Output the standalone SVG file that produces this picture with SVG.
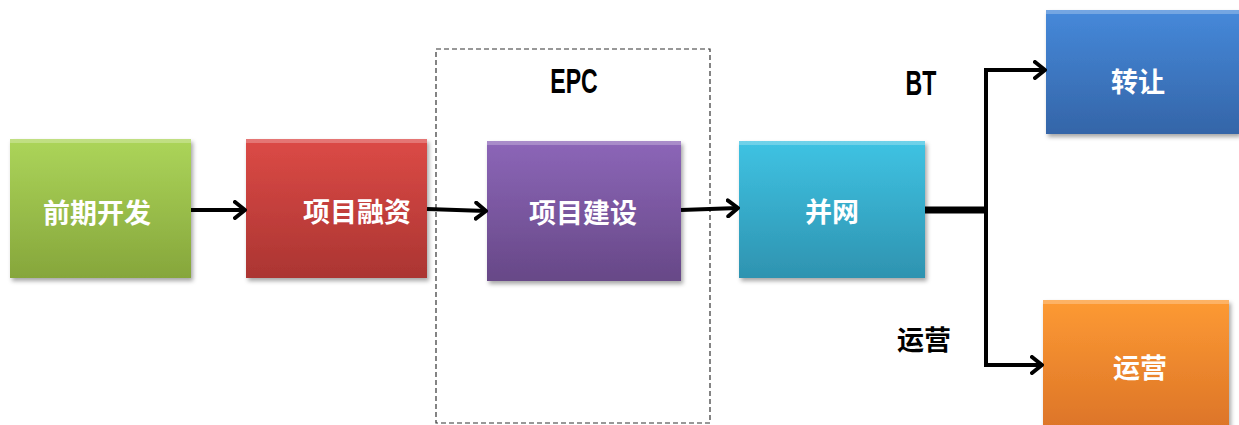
<svg xmlns="http://www.w3.org/2000/svg" width="1239" height="425" viewBox="0 0 1239 425">
<style>
.lbl{font-family:"Noto Sans CJK SC","Liberation Sans",sans-serif;font-weight:bold;font-size:27px;fill:#fff;text-anchor:middle;dominant-baseline:central}
.cap{font-family:"Liberation Sans","Noto Sans CJK SC",sans-serif;font-weight:bold;font-size:35px;fill:#000;text-anchor:middle}
.cjkcap{font-family:"Noto Sans CJK SC","Liberation Sans",sans-serif;font-weight:bold;font-size:27px;fill:#000;text-anchor:middle;dominant-baseline:central}
.conn{stroke:#000;stroke-width:4;fill:none}
.hl{fill:#fff;opacity:0.25}
</style>
<defs>
<linearGradient id="gGreen" x1="0" y1="0" x2="0" y2="1"><stop offset="0" stop-color="#acd55a"/><stop offset="1" stop-color="#86a63b"/></linearGradient>
<linearGradient id="gRed" x1="0" y1="0" x2="0" y2="1"><stop offset="0" stop-color="#dc4a46"/><stop offset="1" stop-color="#ab3532"/></linearGradient>
<linearGradient id="gPurple" x1="0" y1="0" x2="0" y2="1"><stop offset="0" stop-color="#8c66b8"/><stop offset="1" stop-color="#674887"/></linearGradient>
<linearGradient id="gCyan" x1="0" y1="0" x2="0" y2="1"><stop offset="0" stop-color="#3fc3e3"/><stop offset="1" stop-color="#2e93b0"/></linearGradient>
<linearGradient id="gBlue" x1="0" y1="0" x2="0" y2="1"><stop offset="0" stop-color="#4689da"/><stop offset="1" stop-color="#3465a8"/></linearGradient>
<linearGradient id="gOrange" x1="0" y1="0" x2="0" y2="1"><stop offset="0" stop-color="#fd9a33"/><stop offset="1" stop-color="#dc7428"/></linearGradient>
<filter id="sh" x="-10%" y="-10%" width="125%" height="130%"><feDropShadow dx="2" dy="3" stdDeviation="2" flood-color="#000" flood-opacity="0.35"/></filter>
<marker id="arr" viewBox="0 0 14 20" refX="12" refY="10" markerWidth="14" markerHeight="20" markerUnits="userSpaceOnUse" orient="auto">
<path d="M2,2 L12,10 L2,18" fill="none" stroke="#000" stroke-width="4" stroke-linecap="round" stroke-linejoin="round"/>
</marker>
</defs>

<g id="epc-group">
<rect x="436" y="49" width="274" height="374" fill="none" stroke="#333" stroke-width="1.2" stroke-dasharray="5,3"/>
<text class="cap" transform="translate(574,93) scale(0.66,1)">EPC</text>
</g>

<g id="n1">
<rect x="10" y="139" width="181" height="139" fill="url(#gGreen)" filter="url(#sh)"/>
<rect x="10" y="139" width="181" height="4" class="hl"/>
<text class="lbl" x="97" y="211">前期开发</text>
</g>
<g id="n2">
<rect x="246" y="139" width="181" height="139" fill="url(#gRed)" filter="url(#sh)"/>
<rect x="246" y="139" width="181" height="4" class="hl"/>
<text class="lbl" x="357" y="210">项目融资</text>
</g>
<g id="n3">
<rect x="487" y="141" width="194" height="140" fill="url(#gPurple)" filter="url(#sh)"/>
<rect x="487" y="141" width="194" height="4" class="hl"/>
<text class="lbl" x="583" y="211">项目建设</text>
</g>
<g id="n4">
<rect x="739" y="141" width="186" height="137" fill="url(#gCyan)" filter="url(#sh)"/>
<rect x="739" y="141" width="186" height="4" class="hl"/>
<text class="lbl" x="832" y="210">并网</text>
</g>
<g id="n5">
<rect x="1046" y="10" width="193" height="124" fill="url(#gBlue)" filter="url(#sh)"/>
<rect x="1046" y="10" width="193" height="4" class="hl"/>
<text class="lbl" x="1138" y="80">转让</text>
</g>
<g id="n6">
<rect x="1043" y="300" width="186" height="130" fill="url(#gOrange)" filter="url(#sh)"/>
<rect x="1043" y="300" width="186" height="4" class="hl"/>
<text class="lbl" x="1140" y="366">运营</text>
</g>

<g id="connectors">
<line class="conn" x1="191" y1="210" x2="245" y2="210" marker-end="url(#arr)"/>
<line class="conn" x1="427" y1="209" x2="486" y2="211" marker-end="url(#arr)"/>
<line class="conn" x1="681" y1="210" x2="738" y2="208" marker-end="url(#arr)"/>
<line x1="925" y1="210" x2="988" y2="210" stroke="#000" stroke-width="7"/>
<path class="conn" d="M1045,70 L986,70 L986,365 L1042,365"/>
<path class="conn" d="M987,70 L1045,70" marker-end="url(#arr)"/>
<path class="conn" d="M987,365 L1042,365" marker-end="url(#arr)"/>
</g>

<g id="labels">
<text class="cap" transform="translate(921,95) scale(0.66,1)">BT</text>
<text class="cjkcap" x="924" y="338">运营</text>
</g>
</svg>
